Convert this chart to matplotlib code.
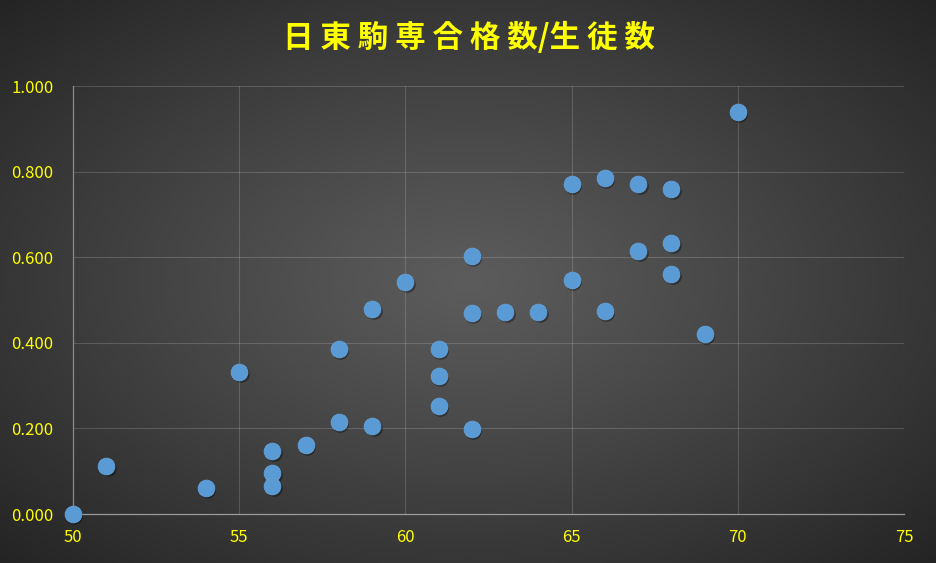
import numpy as np
import matplotlib
matplotlib.use("Agg")
from matplotlib import pyplot as plt
from matplotlib import transforms

# 偏差値 vs 日東駒専合格数/生徒数
hensachi = [50, 51, 54, 55, 56, 56, 56, 57, 58, 58, 59, 59, 60, 61, 61, 61,
            62, 62, 62, 63, 64, 65, 65, 66, 66, 67, 67, 68, 68, 68, 69, 70]
ratio = [0.000, 0.112, 0.061, 0.332, 0.147, 0.096, 0.065, 0.161, 0.386, 0.215,
         0.479, 0.206, 0.542, 0.386, 0.322, 0.252, 0.603, 0.470, 0.199, 0.472,
         0.472, 0.771, 0.547, 0.785, 0.474, 0.771, 0.614, 0.759, 0.633, 0.561,
         0.421, 0.939]

title = "日東駒専合格数/生徒数"
x_ticks = [50, 55, 60, 65, 70, 75]
y_ticks = [0.0, 0.2, 0.4, 0.6, 0.8, 1.0]

plt.rcParams["font.family"] = ["Noto Sans CJK JP", "DejaVu Sans"]
yellow = "#FFFF00"

fig = plt.figure(figsize=(9.37, 5.63), dpi=100)

# radial gradient background
bg = fig.add_axes([0, 0, 1, 1], zorder=-10)
gx, gy = np.meshgrid(np.linspace(-1, 1, 400), np.linspace(-1, 1, 240))
r = np.clip(np.sqrt(gx**2 + gy**2) / np.sqrt(2), 0, 1)
center = np.array([0x5c, 0x5c, 0x5c]) / 255
edge = np.array([0x24, 0x24, 0x24]) / 255
img = center + (edge - center) * r[..., None] ** 1.1
bg.imshow(img, aspect="auto", extent=[0, 1, 0, 1])
bg.axis("off")

ax = fig.add_axes([0.0779, 0.0870, 0.8869, 0.7602])
ax.patch.set_alpha(0)

# soft shadow under markers
shadow = transforms.offset_copy(ax.transData, fig=fig, x=1.5, y=-2, units="dots")
ax.scatter(hensachi, ratio, s=145, color="black", alpha=0.35, lw=0,
           transform=shadow, zorder=3, clip_on=False)
ax.scatter(hensachi, ratio, s=145, color="#5B9BD5", edgecolor="#62A3DD",
           lw=0.6, zorder=4, clip_on=False)

ax.set_xlim(50, 75)
ax.set_ylim(0, 1.0)
ax.set_xticks(x_ticks)
ax.set_yticks(y_ticks)
ax.set_xticklabels([str(v) for v in x_ticks])
ax.set_yticklabels(["%.3f" % v for v in y_ticks])
ax.tick_params(axis="both", length=0, labelcolor=yellow, labelsize=12)
ax.tick_params(axis="x", pad=11)
ax.tick_params(axis="y", pad=14)
ax.grid(True, color="white", alpha=0.16, lw=0.8)
ax.set_axisbelow(True)
for side in ["top", "right"]:
    ax.spines[side].set_visible(False)
ax.spines["left"].set_color("#8a8a8a")
ax.spines["bottom"].set_color("#9a9a9a")
ax.spines["left"].set_linewidth(0.9)
ax.spines["bottom"].set_linewidth(0.9)

fig.text(0.5, 0.932, " ".join(title.replace("/", "\0")).replace(" \0 ", "/"),
         ha="center", va="center", color=yellow, fontsize=22, fontweight="bold")

fig.savefig("out.png", dpi=100)
